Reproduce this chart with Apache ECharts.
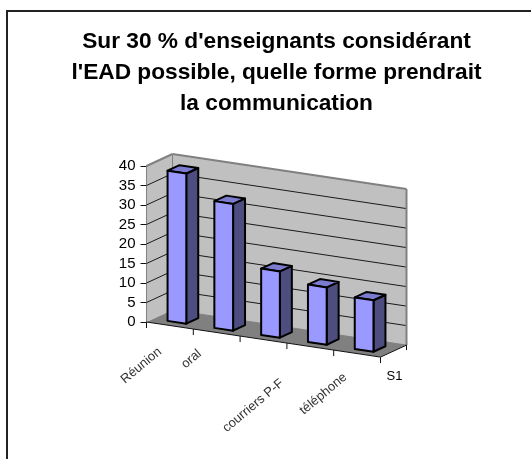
<!DOCTYPE html>
<html>
<head>
<meta charset="utf-8">
<style>html,body{margin:0;padding:0;background:#fff}#chart{width:531px;height:459px}</style>
<script src="https://cdn.jsdelivr.net/npm/echarts@6/dist/echarts.min.js"></script>
</head>
<body>
<div id="chart"></div>
<script>
var categories = ['Réunion', 'oral', 'courriers P-F', 'téléphone', ''];
var values = [38.5, 32.5, 17, 14.7, 13.2];
var yMax = 40;
var yStep = 5;
var seriesName = 'S1';
var titleText = "Sur 30 % d'enseignants considérant\nl'EAD possible, quelle forme prendrait\nla communication";

// oblique projection of the old 3D look: floor slope and wall depth
var slope = 0.15;
var depthX = 26;
var depthY = 12;
var barStart = 0.27;
var barEnd = 0.73;
var barWidth = 0.4;
// where each rotated label ends, relative to its band centre
var labelShift = [[-10, 24.5], [-17, 19.5], [18.5, 42], [35, 29], [0, 0]];

var gridLeft = 146.5;

function shear(p, d) {
    return [p[0] + d * depthX, p[1] + (p[0] - gridLeft) * slope - d * depthY];
}
function line(a, b, color, w) {
    return {type: 'line', shape: {x1: a[0], y1: a[1], x2: b[0], y2: b[1]}, style: {stroke: color, lineWidth: w}};
}
function poly(points, fill, stroke, w) {
    return {type: 'polygon', shape: {points: points}, style: {fill: fill, stroke: stroke || null, lineWidth: w || 0, lineJoin: 'round'}};
}

function renderWalls(params, api) {
    var band = api.size([1, 0])[0];
    var n = categories.length;
    var x0 = api.coord([0, 0])[0] - band / 2;
    var x1 = x0 + band * n;
    var yb = api.coord([0, 0])[1];
    var yt = api.coord([0, yMax])[1];
    var out = [];
    // walls and floor
    out.push(poly([shear([x0, yb], 0), shear([x0, yt], 0), shear([x0, yt], 1), shear([x0, yb], 1)], '#c0c0c0'));
    out.push(poly([shear([x0, yb], 1), shear([x0, yt], 1), shear([x1, yt], 1), shear([x1, yb], 1)], '#c0c0c0'));
    out.push(poly([shear([x0, yb], 0), shear([x0, yb], 1), shear([x1, yb], 1), shear([x1, yb], 0)], '#808080'));
    // grid lines
    for (var v = yStep; v < yMax; v += yStep) {
        var y = api.coord([0, v])[1];
        out.push(line(shear([x0, y], 0), shear([x0, y], 1), '#1a1a1a', 1));
        out.push(line(shear([x0, y], 1), shear([x1, y], 1), '#1a1a1a', 1));
    }
    out.push(line(shear([x0, yb], 1), shear([x1, yb], 1), '#808080', 1));
    // wall outline
    out.push(line(shear([x0, yt], 0), shear([x0, yt], 1), '#808080', 2));
    out.push(line(shear([x0, yt], 1), shear([x1, yt], 1), '#808080', 2));
    out.push(line(shear([x0, yt], 1), shear([x0, yb], 1), '#808080', 1));
    out.push(line(shear([x1, yt], 1), shear([x1, yb], 1), '#808080', 2));
    // category axis along the front of the floor, depth axis on the right
    out.push(line(shear([x0, yb], 0), shear([x1, yb], 0), '#111', 1));
    out.push(line(shear([x1, yb], 0), shear([x1, yb], 1), '#111', 1));
    for (var i = 0; i <= n; i++) {
        var p = shear([x0 + band * i, yb], 0);
        out.push(line(p, [p[0], p[1] + 6], '#111', 1));
    }
    var q = shear([x1, yb], 1);
    out.push(line(q, [q[0], q[1] + 5], '#111', 1));
    var s = shear([x1, yb], 0);
    out.push({type: 'text', x: s[0] + 6, y: s[1] + 13, style: {text: seriesName, fill: '#000', fontFamily: 'Liberation Sans', fontSize: 13, textAlign: 'left', textVerticalAlign: 'top'}});
    return {type: 'group', children: out};
}

function renderBar(params, api) {
    var c = api.coord([api.value(0), 0]);
    var t = api.coord([api.value(0), api.value(1)]);
    var w = api.size([1, 0])[0] * barWidth;
    var xa = c[0] - w / 2;
    var xb = c[0] + w / 2;
    var frontTL = shear([xa, t[1]], barStart);
    var frontTR = shear([xb, t[1]], barStart);
    var frontBR = shear([xb, c[1]], barStart);
    var frontBL = shear([xa, c[1]], barStart);
    var backTL = shear([xa, t[1]], barEnd);
    var backTR = shear([xb, t[1]], barEnd);
    var backBR = shear([xb, c[1]], barEnd);
    return {type: 'group', children: [
        poly([frontTR, frontBR, backBR, backTR], '#4d4d80', '#000', 2),
        poly([frontTL, frontTR, backTR, backTL], '#7b7bd0', '#000', 2),
        poly([frontTL, frontTR, frontBR, frontBL], '#9999ff', '#000', 2)
    ]};
}

function renderLabel(params, api) {
    var i = params.dataIndex;
    var c = api.coord([i, 0]);
    var p = shear(c, 0);
    return {
        type: 'text',
        x: p[0] + labelShift[i][0],
        y: p[1] + labelShift[i][1],
        rotation: 40 * Math.PI / 180,
        style: {text: categories[i], fill: '#333', fontFamily: 'Liberation Sans', fontSize: 13, textAlign: 'right', textVerticalAlign: 'middle'}
    };
}

var option = {
    animation: false,
    backgroundColor: '#fff',
    title: {
        text: titleText,
        left: 271.5,
        top: 21,
        textAlign: 'center',
        textStyle: {fontFamily: 'Liberation Sans', fontSize: 22.7, fontWeight: 'bold', color: '#000', lineHeight: 31}
    },
    graphic: [{
        type: 'rect',
        shape: {x: 7, y: 11, width: 560, height: 480},
        style: {fill: 'none', stroke: '#222', lineWidth: 2},
        silent: true
    }],
    grid: {left: gridLeft, top: 166, width: 234, height: 156},
    xAxis: {type: 'category', data: categories, show: false},
    yAxis: {
        type: 'value', min: 0, max: yMax, interval: yStep,
        axisLine: {show: true, lineStyle: {color: '#444', width: 1}},
        axisTick: {show: true, length: 6, lineStyle: {color: '#111'}},
        axisLabel: {fontFamily: 'Liberation Sans', fontSize: 15, color: '#000', margin: 11},
        splitLine: {show: false}
    },
    series: [
        {name: 'walls', type: 'custom', renderItem: renderWalls, data: [[0, 0]], silent: true, clip: false, z: 1},
        {name: seriesName, type: 'custom', renderItem: renderBar, data: values.map(function (v, i) { return [i, v]; }), clip: false, z: 2},
        {name: 'labels', type: 'custom', renderItem: renderLabel, data: categories.map(function (c, i) { return [i, 0]; }), silent: true, clip: false, z: 3}
    ]
};
var myChart = echarts.init(document.getElementById('chart'));
myChart.setOption(option);
</script>
</body>
</html>
